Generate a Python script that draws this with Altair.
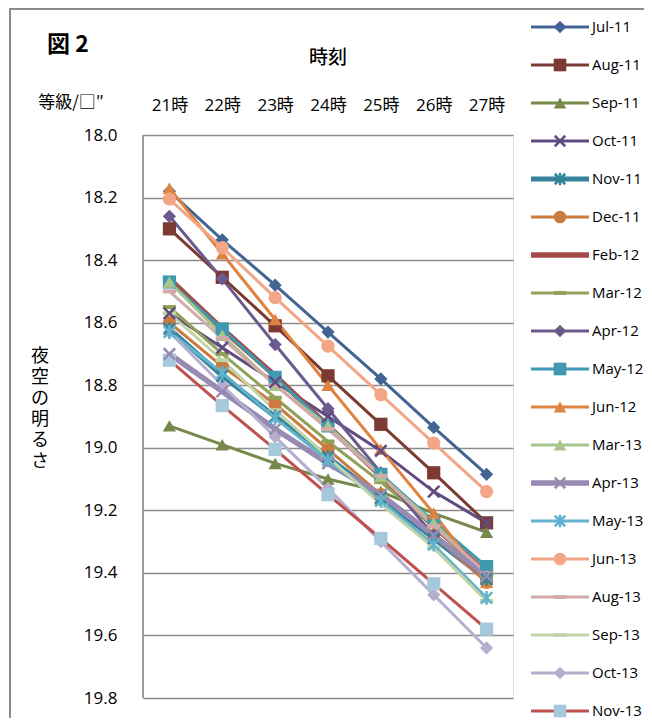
import altair as alt
import pandas as pd

hours = ["21時", "22時", "23時", "24時", "25時", "26時", "27時"]
y_ticks = [18.0, 18.2, 18.4, 18.6, 18.8, 19.0, 19.2, 19.4, 19.6, 19.8]

series_names = ["Jul-11", "Aug-11", "Sep-11", "Oct-11", "Nov-11", "Dec-11", "Feb-12",
                "Mar-12", "Apr-12", "May-12", "Jun-12", "Mar-13", "Apr-13", "May-13",
                "Jun-13", "Aug-13", "Sep-13", "Oct-13", "Nov-13"]

jul_11 = [18.18, 18.335, 18.48, 18.63, 18.78, 18.935, 19.085]
aug_11 = [18.30, 18.455, 18.61, 18.77, 18.925, 19.08, 19.24]
sep_11 = [18.93, 18.99, 19.05, 19.10, 19.14, 19.21, 19.27]
oct_11 = [18.57, 18.68, 18.79, 18.90, 19.01, 19.14, 19.24]
nov_11 = [18.62, 18.77, 18.90, 19.03, 19.16, 19.29, 19.42]
dec_11 = [18.60, 18.74, 18.86, 19.005, 19.15, 19.28, 19.43]
feb_12 = [18.46, 18.62, 18.77, 18.93, 19.09, 19.25, 19.40]
mar_12 = [18.55, 18.70, 18.84, 18.98, 19.11, 19.25, 19.41]
apr_12 = [18.26, 18.46, 18.67, 18.875, 19.08, 19.28, 19.42]
may_12 = [18.47, 18.62, 18.775, 18.93, 19.085, 19.235, 19.38]
jun_12 = [18.17, 18.38, 18.59, 18.80, 19.005, 19.21, 19.43]
mar_13 = [18.47, 18.64, 18.80, 18.93, 19.09, 19.24, 19.41]
apr_13 = [18.70, 18.82, 18.94, 19.05, 19.15, 19.28, 19.41]
may_13 = [18.63, 18.76, 18.905, 19.04, 19.17, 19.31, 19.48]
jun_13 = [18.205, 18.36, 18.52, 18.675, 18.83, 18.985, 19.14]
aug_13 = [18.50, 18.65, 18.80, 18.94, 19.09, 19.25, 19.40]
sep_13 = [18.57, 18.72, 18.88, 19.03, 19.18, 19.32, 19.49]
oct_13 = [18.63, 18.80, 18.965, 19.13, 19.30, 19.47, 19.64]
nov_13 = [18.72, 18.865, 19.005, 19.15, 19.29, 19.435, 19.58]

series_values = [jul_11, aug_11, sep_11, oct_11, nov_11, dec_11, feb_12, mar_12, apr_12,
                 may_12, jun_12, mar_13, apr_13, may_13, jun_13, aug_13, sep_13, oct_13, nov_13]

line_colors = ["#416592", "#7B3A32", "#76894A", "#5F4B80", "#35839C", "#CB7B3E", "#A24B47",
               "#8FA258", "#6C5A8E", "#3F99B0", "#E0833F", "#A7C48B", "#998AB3", "#62B4CC",
               "#F2A686", "#D3A9A9", "#C0D4A8", "#B6AECF", "#C0504D"]
marker_colors = ["#416592", "#7B3A32", "#76894A", "#5F4B80", "#35839C", "#CB7B3E", None,
                 "#8FA258", "#6C5A8E", "#3F99B0", "#E0833F", "#A7C48B", "#998AB3", "#62B4CC",
                 "#F2A686", "#D3A9A9", "#C0D4A8", "#B6AECF", "#A5C8DB"]
X_PATH = "M-1,-1L1,1M-1,1L1,-1"
STAR_PATH = "M-1,-1L1,1M-1,1L1,-1M0,-1.2L0,1.2"
DASH_PATH = "M-1,-0.3L1,-0.3L1,0.3L-1,0.3Z"
marker_shapes = ["diamond", "square", "triangle-up", X_PATH, STAR_PATH, "circle", None,
                 DASH_PATH, "diamond", "square", "triangle-up", "triangle-up", X_PATH, STAR_PATH,
                 "circle", DASH_PATH, DASH_PATH, "diamond", "square"]
line_widths = [3, 3, 3, 3, 5, 3, 5.5, 3, 3, 3, 3, 3, 5.5, 3, 3, 3, 3, 3, 3]


def marker_kind(shp):
    if shp is None:
        return "none"
    return "stroke" if shp in (X_PATH, STAR_PATH) else "fill"


rows = []
for i, name in enumerate(series_names):
    shp = marker_shapes[i]
    for h, v in zip(hours, series_values[i]):
        rows.append({"series": name, "order": i, "hour": h, "value": v,
                     "lcolor": line_colors[i], "mcolor": marker_colors[i] or line_colors[i],
                     "shape": shp or "circle", "sw": line_widths[i], "kind": marker_kind(shp)})
df = pd.DataFrame(rows)

leg_rows = []
for i, name in enumerate(series_names):
    shp = marker_shapes[i]
    leg_rows.append({"series": name, "order": i, "lcolor": line_colors[i],
                     "mcolor": marker_colors[i] or line_colors[i], "shape": shp or "circle",
                     "sw": line_widths[i], "kind": marker_kind(shp)})
leg = pd.DataFrame(leg_rows)

FONT = "Open Sans, Noto Sans CJK JP, sans-serif"
JFONT = "Noto Sans CJK JP, sans-serif"

x_enc = alt.X("hour:N", sort=hours, scale=alt.Scale(type="point", padding=0.5),
              axis=alt.Axis(orient="top", title=None, labelAngle=0, ticks=False, domain=False,
                            grid=False, labelFontSize=17, labelPadding=21, labelColor="#000",
                            labelFont=FONT, labelFontWeight="normal"))
y_scale = alt.Scale(domain=[18.0, 19.8], reverse=True, nice=False, zero=False)
y_enc = alt.Y("value:Q", scale=y_scale,
              axis=alt.Axis(values=y_ticks, format=".1f", title=None, ticks=False,
                            domain=False, grid=True, gridColor="#8C8C8C", gridWidth=1.6,
                            labelFontSize=17, labelPadding=26, labelColor="#000",
                            labelFont=FONT, labelFontWeight="normal"))

base = alt.Chart(df)
lines = base.mark_line().encode(
    x=x_enc, y=y_enc, detail="series:N",
    color=alt.Color("lcolor:N", scale=None),
    strokeWidth=alt.StrokeWidth("sw:Q", scale=None),
    order="order:Q")
fill_pts = base.transform_filter(alt.datum.kind == "fill").mark_point(
    filled=True, size=175, opacity=1).encode(
    x=alt.X("hour:N", sort=hours), y=alt.Y("value:Q", scale=y_scale),
    color=alt.Color("mcolor:N", scale=None),
    shape=alt.Shape("shape:N", scale=None))
stroke_pts = base.transform_filter(alt.datum.kind == "stroke").mark_point(
    filled=False, size=130, strokeWidth=2.5, opacity=1).encode(
    x=alt.X("hour:N", sort=hours), y=alt.Y("value:Q", scale=y_scale),
    color=alt.Color("mcolor:N", scale=None),
    shape=alt.Shape("shape:N", scale=None))

one = pd.DataFrame({"a": [0]})
left_axis = alt.Chart(one).mark_rule(color="#8C8C8C", strokeWidth=1.6).encode(
    x=alt.value(0), y=alt.value(0), y2=alt.value(563))
frame_left = alt.Chart(one).mark_rule(color="#8C8C8C", strokeWidth=2).encode(
    x=alt.value(-133), y=alt.value(-126), y2=alt.value(700))
frame_top = alt.Chart(one).mark_rule(color="#8C8C8C", strokeWidth=2).encode(
    x=alt.value(-134), x2=alt.value(600), y=alt.value(-126))

fig_title = alt.Chart(one).mark_text(text="図 2", font=JFONT, fontSize=23, fontWeight="bold",
                                     align="center", baseline="middle", color="#000").encode(
    x=alt.value(-75), y=alt.value(-90))
x_title = alt.Chart(one).mark_text(text="時刻", font=JFONT, fontSize=19, fontWeight=500,
                                   align="center", baseline="middle", color="#000").encode(
    x=alt.value(185), y=alt.value(-77))
unit = alt.Chart(one).mark_text(text="等級/□″", font=JFONT, fontSize=17,
                                align="center", baseline="middle", color="#000").encode(
    x=alt.value(-72), y=alt.value(-32))
y_title = alt.Chart(one).mark_text(text=["夜", "空", "の", "明", "る", "さ"], font=JFONT,
                                   fontSize=18, lineHeight=21, align="center",
                                   baseline="middle", color="#000").encode(
    x=alt.value(-103), y=alt.value(222))

main = alt.layer(left_axis, lines, fill_pts, stroke_pts)

leg_y = alt.Y("series:N", sort=series_names,
              scale=alt.Scale(type="point", domain=series_names, range=[-108, 576], padding=0),
              axis=None)
lb = alt.Chart(leg)
leg_lines = lb.mark_rule().encode(
    x=alt.value(388), x2=alt.value(446), y=leg_y,
    color=alt.Color("lcolor:N", scale=None),
    strokeWidth=alt.StrokeWidth("sw:Q", scale=None))
leg_fill = lb.transform_filter(alt.datum.kind == "fill").mark_point(
    filled=True, size=160, opacity=1).encode(
    x=alt.value(417), y=leg_y, color=alt.Color("mcolor:N", scale=None),
    shape=alt.Shape("shape:N", scale=None))
leg_stroke = lb.transform_filter(alt.datum.kind == "stroke").mark_point(
    filled=False, size=110, strokeWidth=2.5, opacity=1).encode(
    x=alt.value(417), y=leg_y, color=alt.Color("mcolor:N", scale=None),
    shape=alt.Shape("shape:N", scale=None))
leg_text = lb.mark_text(align="left", baseline="middle", fontSize=15, font=FONT,
                        fontWeight="normal", color="#000").encode(
    x=alt.value(449), y=leg_y, text="series:N")
legend = alt.layer(leg_lines, leg_fill, leg_stroke, leg_text)

deco = alt.layer(frame_left, frame_top, fig_title, x_title, unit, y_title)

chart = alt.layer(deco, main, legend).resolve_scale(y="independent", x="independent").properties(
    width=370, height=563,
    autosize=alt.AutoSizeParams(type="none"),
    padding={"left": 135, "top": 127, "right": 131, "bottom": 20},
).configure_view(stroke=None).configure(background="white")

chart.save("out.html", embed_options={"renderer": "svg", "actions": False})
